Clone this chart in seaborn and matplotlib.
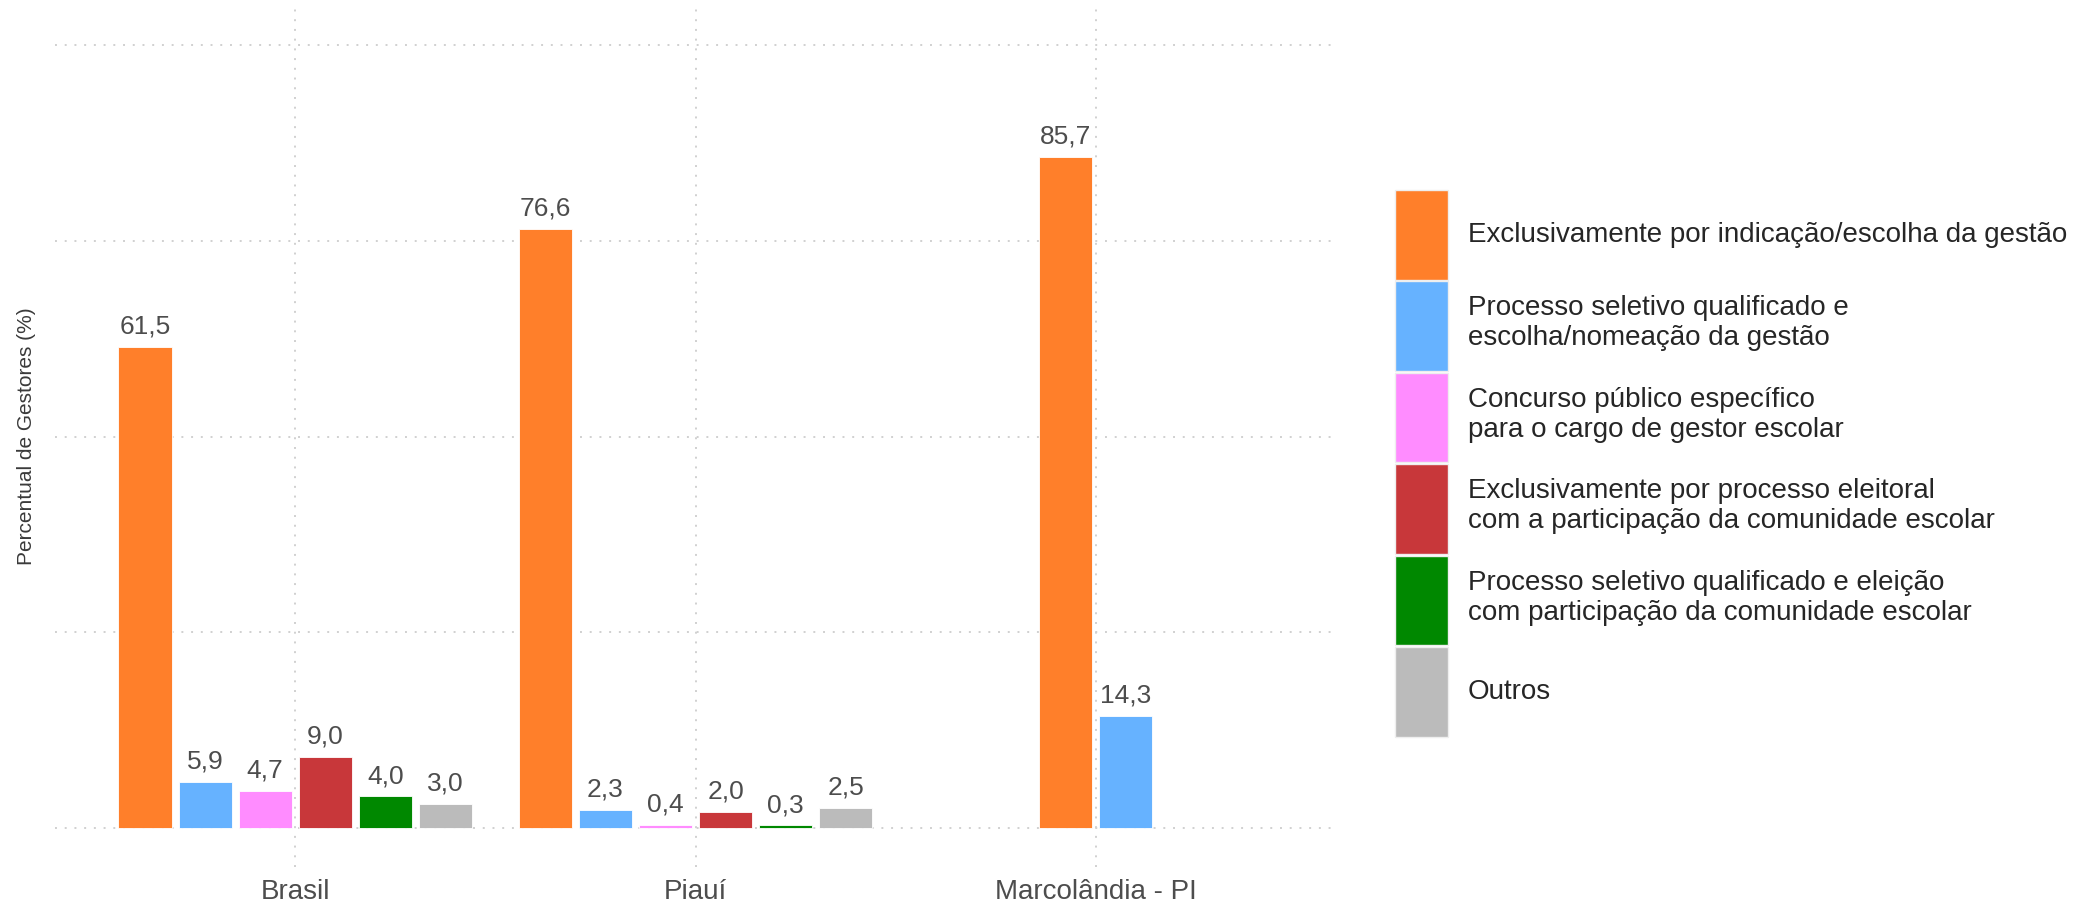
import numpy as np
import pandas as pd
import matplotlib
matplotlib.use("Agg")
import matplotlib.pyplot as plt
from matplotlib.patches import Patch
import seaborn as sns

# --- data -------------------------------------------------------------
regioes = ["Brasil", "Piauí", "Marcolândia - PI"]
formas = [
    "Exclusivamente por indicação/escolha da gestão",
    "Processo seletivo qualificado e\nescolha/nomeação da gestão",
    "Concurso público específico\npara o cargo de gestor escolar",
    "Exclusivamente por processo eleitoral\ncom a participação da comunidade escolar",
    "Processo seletivo qualificado e eleição\ncom participação da comunidade escolar",
    "Outros",
]
brasil = [61.5, 5.9, 4.7, 9.0, 4.0, 3.0]
piaui = [76.6, 2.3, 0.4, 2.0, 0.3, 2.5]
marcolandia = [85.7, 14.3, np.nan, np.nan, np.nan, np.nan]
cores = ["#FF7F2A", "#66B2FF", "#FF8CFF", "#C8373A", "#008800", "#BBBBBB"]

# --- long table with dodged positions (only present categories dodge) --
slot = 0.15
rows = []
for i, (reg, vals) in enumerate(zip(regioes, [brasil, piaui, marcolandia])):
    present = [(f, v) for f, v in zip(formas, vals) if not np.isnan(v)]
    n = len(present)
    for k, (f, v) in enumerate(present):
        rows.append({"regiao": reg, "forma": f, "valor": v,
                     "pos": (i + 1) + (k - (n - 1) / 2) * slot})
df = pd.DataFrame(rows)

# --- style --------------------------------------------------------------
sns.set_theme(style="white")
plt.rcParams["font.family"] = ["Liberation Sans", "DejaVu Sans"]

fig = plt.figure(figsize=(20.93, 9.07), dpi=100)
ax = fig.add_axes([0.0263, 0.0443, 0.6120, 0.9487])

grid_kw = dict(color="#D0D0D0", linewidth=1.4, dashes=(1, 4), zorder=0)
for yv in [0, 25, 50, 75, 100]:
    ax.axhline(yv, **grid_kw)
for xv in [1, 2, 3]:
    ax.axvline(xv, **grid_kw)

palette = dict(zip(formas, cores))
sns.barplot(data=df, x="pos", y="valor", hue="forma", hue_order=formas,
            palette=palette, native_scale=True, dodge=False,
            width=0.133 / slot, errorbar=None, legend=False,
            edgecolor="white", linewidth=0.6, saturation=1, ax=ax, zorder=2)

# value labels
for _, r in df.iterrows():
    ax.annotate(f"{r['valor']:.1f}".replace(".", ","), (r["pos"], r["valor"]),
                xytext=(0, 6), textcoords="offset points",
                ha="center", va="bottom", fontsize=19, color="#4D4D4D")

ax.set_xlim(0.4, 3.6)
ax.set_ylim(-5, 105)
ax.set_xticks([1, 2, 3])
ax.set_xticklabels(regioes, fontsize=20, color="#4D4D4D")
ax.set_yticks([])
ax.tick_params(axis="x", length=0, pad=9)
ax.set_xlabel("")
ax.set_ylabel("Percentual de Gestores (%)", fontsize=15, color="#3A3A3A")
ax.yaxis.set_label_coords(-0.015, 0.5)
for s in ax.spines.values():
    s.set_visible(False)
ax.grid(False)

handles = [Patch(facecolor=c, edgecolor="#EEEEEE", linewidth=1) for c in cores]
fig.legend(handles, formas, loc="upper left", bbox_to_anchor=(0.6665, 0.7905),
           frameon=False, fontsize=20, handlelength=1.9, handleheight=4.58,
           labelspacing=0.07, handletextpad=0.72, borderpad=0, borderaxespad=0)

fig.savefig("out.png", dpi=100, facecolor="white")
